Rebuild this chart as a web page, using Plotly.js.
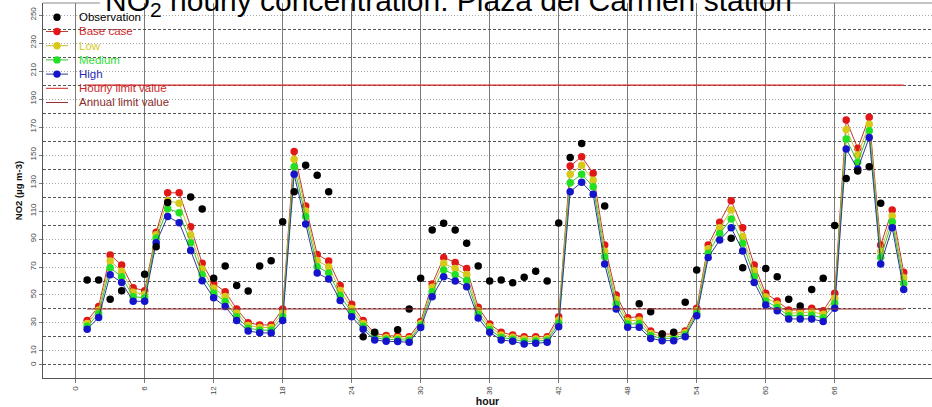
<!DOCTYPE html>
<html>
<head>
<meta charset="utf-8">
<script src="https://cdn.plot.ly/plotly-3.0.1.min.js"></script>
<style>
html,body{margin:0;padding:0;background:#fff;overflow:hidden;}
#chart{width:932px;height:407px;}
</style>
</head>
<body>
<div id="chart"></div>
<script>
// ---- data ----
const hours = Array.from({length: 72}, (_, i) => i + 1);

const observation = [
  60.7, 60.7, 46.9, 53, null, 64.8, 84.5, 116, null, 120, 111.5, 62,
  70.7, 56.7, 52.9, 70.7, 74.5, 102.4, 123.8, 142.6, 135.5, 123.8, null, null,
  20.2, 23.3, null, 25.2, 40, 61.9, 96.4, 101.2, 96.4, 86.9, 70.7, 60,
  60.7, 58.8, 62.6, 66.9, 60, 101.4, 148.3, 158.3, null, 113.6, null, null,
  43.8, 38.1, 22.1, 23.3, 44.8, 67.9, null, null, 90.5, 69.5, null, 69,
  63.1, 46.9, 42.1, 54, 61.9, 99.7, 133.3, 138.6, 141.7, 115.5, null, null
];
const baseCase = [
  31.7, 41.7, 78.6, 71.4, 55.2, 53, 94.8, 123, 123, 98.8, 72.6, 58.3,
  52.4, 40, 30.2, 28.6, 28.6, 40, 152.6, 113.6, 79, 74.3, 56.7, 43.3,
  31.7, 22.6, 21, 20.7, 20.2, 31, 57.9, 76.7, 73.3, 69, 41.2, 29.3,
  23.3, 21.4, 20.2, 20.2, 20.2, 34.5, 142.1, 148.8, 136.9, 85.7, 50, 33.8,
  34.5, 24.3, 22.1, 22.1, 24.3, 40.5, 85.7, 101.9, 117.4, 98, 71.4, 51.2,
  45.7, 39.3, 39.3, 40.5, 38.8, 51.2, 175, 154.8, 176.9, 85.7, 110.7, 66.2
];
const low = [
  29.6, 39.2, 74.3, 67, 52, 50.5, 93, 117.4, 115.5, 92.9, 68.5, 54.9,
  48.9, 37.3, 28.2, 26.8, 26.7, 37.3, 146.9, 110, 74.6, 70, 53.2, 40.4,
  29.7, 21.1, 19.6, 19.4, 18.9, 29.6, 55.5, 72.6, 68.9, 64.7, 38.7, 27.3,
  21.5, 19.9, 18.5, 18.6, 18.9, 32.2, 136.2, 142.6, 132, 81.2, 46.7, 31.5,
  32, 22.5, 20.5, 20.5, 23, 38.8, 83, 98, 110.7, 91.7, 67.3, 48.5,
  43.4, 37.2, 37.2, 38, 36.2, 47.7, 168.3, 150, 172, 81, 106.5, 62.3
];
const medium = [
  27.6, 36.6, 69.5, 63, 48.8, 48, 90.5, 111.7, 108.8, 87.4, 64.4, 51.5,
  45.3, 34.5, 26.3, 24.9, 24.8, 34.5, 141.7, 106, 70.2, 65.8, 49.6, 37.5,
  27.6, 19.5, 18.3, 18.1, 17.6, 28.2, 52.4, 67.9, 64.5, 60.4, 36.2, 25.3,
  19.7, 18.4, 16.8, 17.1, 17.6, 29.8, 130.2, 136.2, 127.4, 77.4, 43.4, 29.2,
  29.5, 20.8, 19, 19, 21.6, 37, 79.8, 94, 104.3, 86.9, 63.2, 45.7,
  41.1, 35.1, 35.1, 35.5, 33.7, 44.1, 161.4, 144.8, 167.4, 76.9, 102.4, 58.3
];
const high = [
  25.5, 34, 64.5, 59, 45.5, 45.5, 87.4, 106, 101.6, 81.7, 60.2, 48,
  41.7, 31.7, 24.3, 23, 22.8, 31.7, 136.2, 100.7, 65.7, 61.4, 46, 34.5,
  25.5, 17.9, 16.9, 16.7, 16.2, 26.7, 48.8, 63.1, 60, 55.9, 33.6, 23.3,
  17.9, 16.9, 15, 15.5, 16.2, 27.4, 123.8, 130.5, 121.9, 72.1, 40, 26.9,
  26.9, 19, 17.4, 17.4, 20.2, 35.2, 76.7, 89.3, 98, 81.4, 59, 42.9,
  38.8, 32.9, 32.9, 32.9, 31, 40.5, 154.3, 140, 162.6, 72.1, 98, 54
];
const hourlyLimit = 200;
const annualLimit = 40;
const limitSpan = [1, 72];

const xTicks = [0, 6, 12, 18, 24, 30, 36, 42, 48, 54, 60, 66];
const yLabelTicks = [0, 10, 30, 50, 70, 90, 110, 130, 150, 170, 190, 210, 230, 250];

const legendNames = ['Observation', 'Base case', 'Low', 'Medium', 'High', 'Hourly limit value', 'Annual limit value'];

// ---- styles ----
const FONT = 'Liberation Sans, Arial, Helvetica, sans-serif';
const sty = {
  obs:    {marker: '#000000', line: null,      text: '#000000'},
  base:   {marker: '#e01818', line: '#c03a30', text: '#cc2a2a'},
  low:    {marker: '#d8c818', line: '#c8bc30', text: '#d6cc22'},
  medium: {marker: '#22e022', line: '#38c038', text: '#33dd33'},
  high:   {marker: '#1414cc', line: '#303898', text: '#2a2ab0'},
  hourly: {line: '#d42424', text: '#cc2a2a'},
  annual: {line: '#9a3030', text: '#8e2a2a'}
};

function series(y, s, name) {
  return {
    x: hours, y: y, name: name, type: 'scatter', mode: 'lines+markers',
    line: {color: s.line, width: 1},
    marker: {color: s.marker, size: 7.5},
    showlegend: false, hoverinfo: 'x+y+name'
  };
}

const traces = [
  {x: limitSpan, y: limitSpan.map(() => hourlyLimit), yaxis: 'y2', mode: 'lines', type: 'scatter',
   line: {color: sty.hourly.line, width: 1.2}, name: legendNames[5], showlegend: false},
  {x: limitSpan, y: limitSpan.map(() => annualLimit), yaxis: 'y2', mode: 'lines', type: 'scatter',
   line: {color: sty.annual.line, width: 1.2}, name: legendNames[6], showlegend: false},
  series(baseCase, sty.base, legendNames[1]),
  series(low, sty.low, legendNames[2]),
  series(medium, sty.medium, legendNames[3]),
  series(high, sty.high, legendNames[4]),
  {x: hours, y: observation, name: legendNames[0], type: 'scatter', mode: 'markers',
   marker: {color: '#000', size: 7.5}, showlegend: false}
];

// ---- layout helpers (pixel -> paper) ----
const W = 932, H = 407;
const M = {l: 43, r: 0, t: 3, b: 29};
const pw = W - M.l - M.r, ph = H - M.t - M.b;
const px = v => (v - M.l) / pw;
const py = v => (H - M.b - v) / ph;

const yRange = [-9.3, 258.6];

const legendStyles = [sty.obs, sty.base, sty.low, sty.medium, sty.high, sty.hourly, sty.annual];
const annotations = [];
const shapes = [];
legendNames.forEach((nm, i) => {
  const yy = 17.3 + i * 14.2;
  const s = legendStyles[i];
  annotations.push({
    xref: 'paper', yref: 'paper', x: px(77), y: py(yy), xanchor: 'left', yanchor: 'middle',
    text: nm, showarrow: false, font: {family: FONT, size: 11.5, color: s.text}
  });
  if (i > 0) {
    shapes.push({type: 'line', xref: 'paper', yref: 'paper', x0: px(46), x1: px(68), y0: py(yy), y1: py(yy),
      line: {color: s.line, width: 1}});
  }
  if (i < 5) {
    shapes.push({type: 'circle', xref: 'paper', yref: 'paper', x0: px(53.3), x1: px(60.7), y0: py(yy - 3.7), y1: py(yy + 3.7),
      fillcolor: s.marker, line: {width: 0}});
  }
});
annotations.push({
  xref: 'paper', yref: 'paper', x: px(448), y: py(2), xanchor: 'center', yanchor: 'middle',
  text: 'NO<sub>2</sub> hourly concentration: Plaza del Carmen station', showarrow: false,
  font: {family: FONT, size: 30, color: '#000'}
});
// top frame segments visible on either side of the title
shapes.push({type: 'line', xref: 'paper', yref: 'paper', x0: 0, x1: px(100), y0: 1, y1: 1, line: {color: '#888', width: 1}});
shapes.push({type: 'line', xref: 'paper', yref: 'paper', x0: px(742), x1: 1, y0: 1, y1: 1, line: {color: '#888', width: 1}});

const layout = {
  width: W, height: H,
  margin: M,
  paper_bgcolor: '#fff', plot_bgcolor: '#fff',
  font: {family: FONT, color: '#333'},
  showlegend: false,
  xaxis: {
    range: [-2.84, 74.46], tickmode: 'array', tickvals: xTicks, ticktext: xTicks.map(String),
    tickangle: -90, tickfont: {size: 8, color: '#444'},
    showgrid: true, gridcolor: '#7a7a7a', gridwidth: 1,
    ticks: 'outside', ticklen: 4, tickcolor: '#7a7a7a',
    showline: true, linecolor: '#555', linewidth: 1, zeroline: false,
    title: {text: '<b>hour</b>', font: {size: 10.5, color: '#111'}, standoff: 6}
  },
  yaxis: {
    range: yRange, tickmode: 'array', tickvals: yLabelTicks, ticktext: yLabelTicks.map(String),
    tickangle: -90, tickfont: {size: 8, color: '#444'},
    showgrid: false, zeroline: false,
    ticks: 'outside', ticklen: 3, tickcolor: '#777',
    showline: true, linecolor: '#555', linewidth: 1,
    minor: {tickmode: 'linear', tick0: 10, dtick: 20, showgrid: true, griddash: '1px,2px', gridcolor: '#a8a8a8', gridwidth: 1, ticks: ''},
    title: {text: '<b>NO2 (µg m-3)</b>', font: {size: 9.5, color: '#111'}, standoff: 4}
  },
  yaxis2: {
    range: yRange, overlaying: 'y', side: 'left', tickmode: 'linear', tick0: 0, dtick: 20,
    showticklabels: false, ticks: '', showgrid: true, griddash: '3px,2px', gridcolor: '#555', gridwidth: 1,
    zeroline: false, showline: false
  },
  annotations: annotations,
  shapes: shapes
};

Plotly.newPlot('chart', traces, layout, {staticPlot: true, displayModeBar: false});
</script>
</body>
</html>
